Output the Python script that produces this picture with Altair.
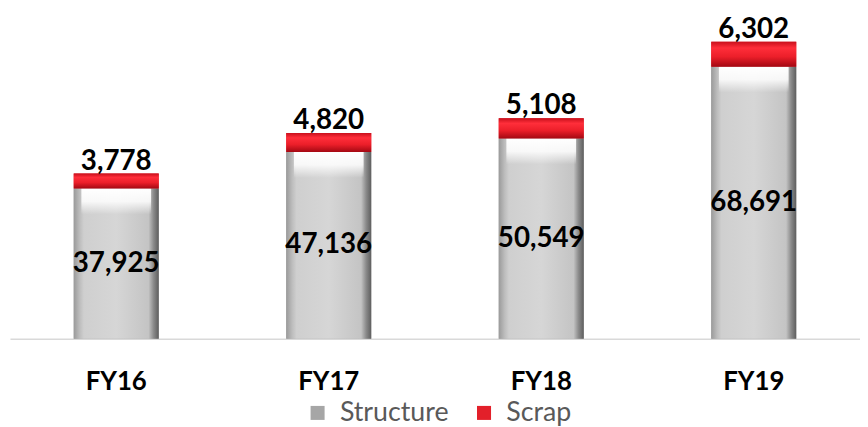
import altair as alt
import pandas as pd

categories = ["FY16", "FY17", "FY18", "FY19"]
structure = [37925, 47136, 50549, 68691]
scrap = [3778, 4820, 5108, 6302]
series = ["Structure", "Scrap"]

wide = pd.DataFrame({"cat": categories, "structure": structure, "scrap": scrap})
wide["total"] = wide["structure"] + wide["scrap"]
wide["hl"] = wide["structure"] - 6500
wide["mid"] = wide["structure"] / 2
wide["s_lab"] = [f"{v:,}" for v in structure]
wide["c_lab"] = [f"{v:,}" for v in scrap]

long = pd.DataFrame({
    "cat": categories * 2,
    "series": [series[0]] * 4 + [series[1]] * 4,
    "value": structure + scrap,
    "order": [0] * 4 + [1] * 4,
})

FONT = "Lato"
x = alt.X("cat:N", sort=categories, title=None,
          scale=alt.Scale(paddingInner=0.6, paddingOuter=0.3),
          axis=alt.Axis(labelAngle=0, labelFont=FONT, labelFontSize=26, labelFontWeight="bold",
                        labelColor="#000000", ticks=False, domainColor="#d9d9d9", domainWidth=1.5,
                        labelPadding=30, labelBaseline="top", grid=False))
yscale = alt.Scale(domain=[0, 83000])

base_bars = alt.Chart(long).mark_bar().encode(
    x=x,
    y=alt.Y("value:Q", stack="zero", scale=yscale, axis=None),
    order=alt.Order("order:Q"),
    color=alt.Color("series:N", sort=series,
                    scale=alt.Scale(domain=series, range=["#a6a6a6", "#e3202a"]),
                    legend=alt.Legend(title=None, orient="none", direction="horizontal",
                                      legendX=297, legendY=393, labelFont=FONT, labelFontSize=27,
                                      labelColor="#595959", symbolType="square", symbolSize=200,
                                      columnPadding=22, labelOffset=9)),
)

gray_grad = {"gradient": "linear", "x1": 0, "x2": 1, "y1": 0, "y2": 0,
             "stops": [{"offset": 0, "color": "#9a9a9a"}, {"offset": 0.07, "color": "#bdbdbd"},
                       {"offset": 0.12, "color": "#cfcfcf"}, {"offset": 0.5, "color": "#d6d6d6"},
                       {"offset": 0.88, "color": "#c4c4c4"}, {"offset": 0.94, "color": "#8a8a8a"},
                       {"offset": 1, "color": "#5e5e5e"}]}
red_grad = {"gradient": "linear", "x1": 0, "x2": 0, "y1": 0, "y2": 1,
            "stops": [{"offset": 0, "color": "#c8101c"}, {"offset": 0.25, "color": "#ff2e3a"},
                      {"offset": 0.6, "color": "#ec1f2a"}, {"offset": 1, "color": "#a30812"}]}
hl_grad = {"gradient": "linear", "x1": 0, "x2": 0, "y1": 0, "y2": 1,
           "stops": [{"offset": 0, "color": "rgba(255,255,255,1)"},
                     {"offset": 0.5, "color": "rgba(255,255,255,0.85)"},
                     {"offset": 1, "color": "rgba(255,255,255,0)"}]}

gray_bars = alt.Chart(wide).mark_bar(color=gray_grad).encode(
    x=x, y=alt.Y("structure:Q", scale=yscale, axis=None))
hl_bars = alt.Chart(wide).mark_bar(color=hl_grad, width={"band": 0.82}).encode(
    x=x, y=alt.Y("structure:Q", scale=yscale, axis=None), y2="hl:Q")
red_bars = alt.Chart(wide).mark_bar(color=red_grad).encode(
    x=x, y=alt.Y("total:Q", scale=yscale, axis=None), y2="structure:Q")

s_text = alt.Chart(wide).mark_text(font=FONT, fontSize=28, fontWeight="bold", color="#000000",
                                   baseline="middle").encode(
    x=x, y=alt.Y("mid:Q", scale=yscale, axis=None), text="s_lab:N")
c_text = alt.Chart(wide).mark_text(font=FONT, fontSize=28, fontWeight="bold", color="#000000",
                                   baseline="bottom", dy=2).encode(
    x=x, y=alt.Y("total:Q", scale=yscale, axis=None), text="c_lab:N")

chart = alt.layer(base_bars, gray_bars, hl_bars, red_bars, s_text, c_text).properties(
    width=858, height=332,
    background="#ffffff",
    autosize=alt.AutoSizeParams(type="none"),
    padding={"left": 2, "top": 0, "right": 0, "bottom": 88},
).configure_view(stroke=None, strokeWidth=0)

chart.save("out.html", embed_options={"renderer": "svg", "actions": False})
